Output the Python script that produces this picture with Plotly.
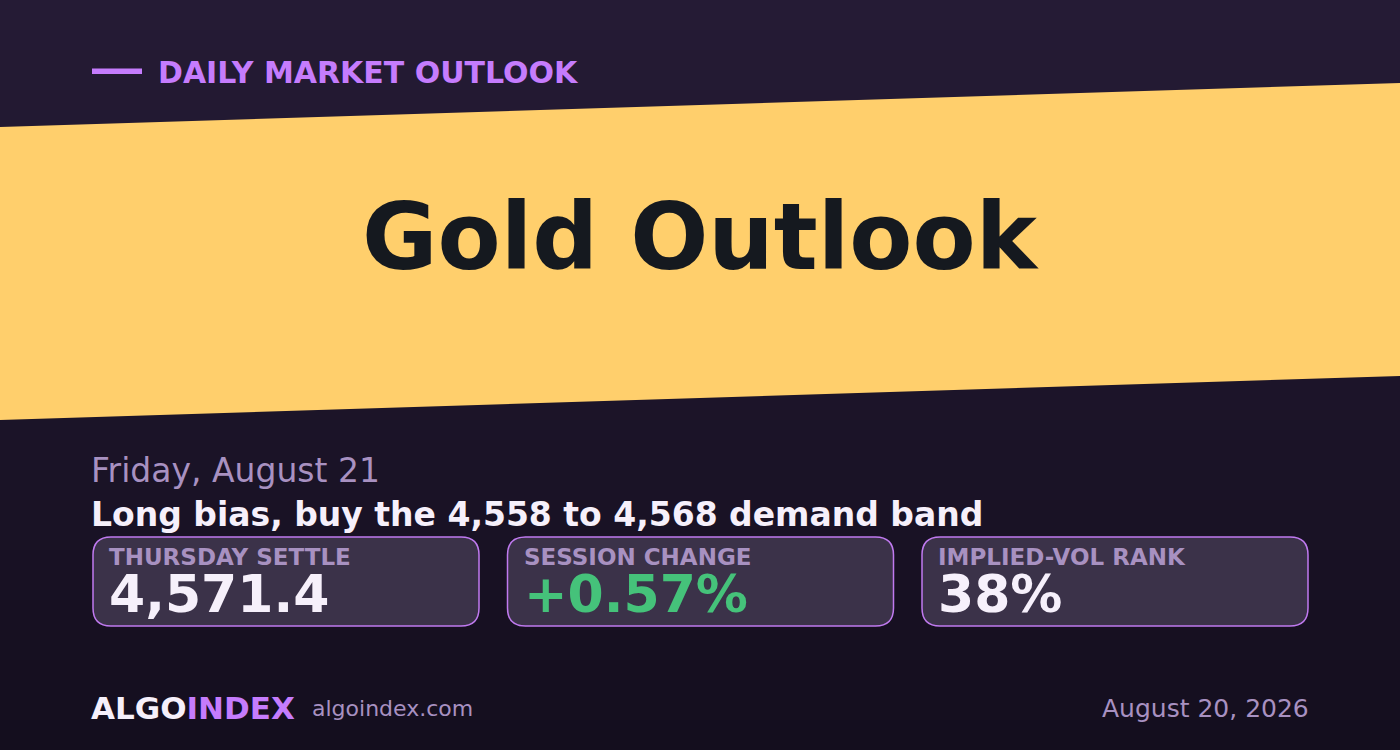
import plotly.graph_objects as go

# ---- content ----
kicker = "DAILY MARKET OUTLOOK"
title = "Gold Outlook"
date_line = "Friday, August 21"
bias_line = "Long bias, buy the 4,558 to 4,568 demand band"
card_labels = ["THURSDAY SETTLE", "SESSION CHANGE", "IMPLIED-VOL RANK"]
card_values = ["4,571.4", "+0.57%", "38%"]
brand_a = "ALGO"
brand_b = "INDEX"
site = "algoindex.com"
pub_date = "August 20, 2026"

# ---- style ----
W, H = 1400, 750
FONT = "DejaVu Sans"
PURPLE = "#c57cfd"
WHITE = "#f6f0fb"
MUTED = "#a891c1"
YELLOW = "#ffcf6c"
DARK = "#15191f"
CARD_FILL = "#3b3249"
CARD_LINE = "#c07af0"
VALUE_COLORS = [WHITE, "#45c27a", WHITE]

fig = go.Figure()
shapes = []

# background vertical gradient via stripes
top_rgb = (0x25, 0x1b, 0x35)
bot_rgb = (0x14, 0x0e, 0x1e)
n = 75
for i in range(n):
    t = i / (n - 1)
    c = tuple(round(top_rgb[k] + (bot_rgb[k] - top_rgb[k]) * t) for k in range(3))
    y0 = H * i / n
    y1 = H * (i + 1) / n + 0.6
    shapes.append(dict(type="rect", xref="x", yref="y", x0=0, x1=W, y0=y0, y1=y1,
                       fillcolor="rgb(%d,%d,%d)" % c, line=dict(width=0), layer="below"))

# slanted yellow band
shapes.append(dict(type="path", xref="x", yref="y",
                   path="M 0 127 L 1400 83 L 1400 376 L 0 420 Z",
                   fillcolor=YELLOW, line=dict(width=0), layer="below"))

# kicker bar
shapes.append(dict(type="rect", xref="x", yref="y", x0=92, x1=142, y0=68.5, y1=74,
                   fillcolor=PURPLE, line=dict(width=0)))

# cards
card_left, card_w, card_gap = 93, 386, 28.5
card_top, card_bot, r = 537, 626, 18


def rounded(x0, y0, x1, y1, r):
    return (f"M {x0+r} {y0} L {x1-r} {y0} Q {x1} {y0} {x1} {y0+r} "
            f"L {x1} {y1-r} Q {x1} {y1} {x1-r} {y1} L {x0+r} {y1} "
            f"Q {x0} {y1} {x0} {y1-r} L {x0} {y0+r} Q {x0} {y0} {x0+r} {y0} Z")


annotations = []
for i, (lab, val) in enumerate(zip(card_labels, card_values)):
    x0 = card_left + i * (card_w + card_gap)
    x1 = x0 + card_w
    shapes.append(dict(type="path", xref="x", yref="y", path=rounded(x0, card_top, x1, card_bot, r),
                       fillcolor=CARD_FILL, line=dict(color=CARD_LINE, width=1.5)))
    txt = (f"<b><span style='font-size:23px;color:{MUTED}'>{lab}</span><br>"
           f"<span style='font-size:52px;color:{VALUE_COLORS[i]}'>{val}</span></b>")
    annotations.append(dict(x=x0 + 14, y=584, text=txt, showarrow=False,
                            xanchor="left", yanchor="middle", align="left",
                            font=dict(family=FONT, size=36, color=WHITE)))

annotations += [
    dict(x=156, y=72, text=f"<b>{kicker}</b>", xanchor="left", yanchor="middle",
         font=dict(family=FONT, size=30, color=PURPLE)),
    dict(x=700, y=237, text=f"<b>{title}</b>", xanchor="center", yanchor="middle",
         font=dict(family=FONT, size=92, color=DARK)),
    dict(x=89, y=470, text=date_line, xanchor="left", yanchor="middle",
         font=dict(family=FONT, size=33, color=MUTED)),
    dict(x=89, y=514, text=f"<b>{bias_line}</b>", xanchor="left", yanchor="middle",
         font=dict(family=FONT, size=33, color=WHITE)),
    dict(x=89, y=708, text=f"<b>{brand_a}<span style='color:{PURPLE}'>{brand_b}</span></b>",
         xanchor="left", yanchor="middle", font=dict(family=FONT, size=31, color=WHITE)),
    dict(x=310, y=708, text=site, xanchor="left", yanchor="middle",
         font=dict(family=FONT, size=22, color=MUTED)),
    dict(x=1311, y=708, text=pub_date, xanchor="right", yanchor="middle",
         font=dict(family=FONT, size=25, color=MUTED)),
]
for a in annotations:
    a.setdefault("showarrow", False)
    a["xref"] = "x"
    a["yref"] = "y"

fig.update_layout(
    width=W, height=H,
    margin=dict(l=0, r=0, t=0, b=0),
    paper_bgcolor="#1d1529", plot_bgcolor="rgba(0,0,0,0)",
    xaxis=dict(range=[0, W], visible=False, fixedrange=True),
    yaxis=dict(range=[H, 0], visible=False, fixedrange=True),
    shapes=shapes, annotations=annotations, showlegend=False,
)

fig.write_html("out.html", config={"displayModeBar": False},
               post_script="document.body.style.margin='0';document.body.style.background='#140e1e';")
